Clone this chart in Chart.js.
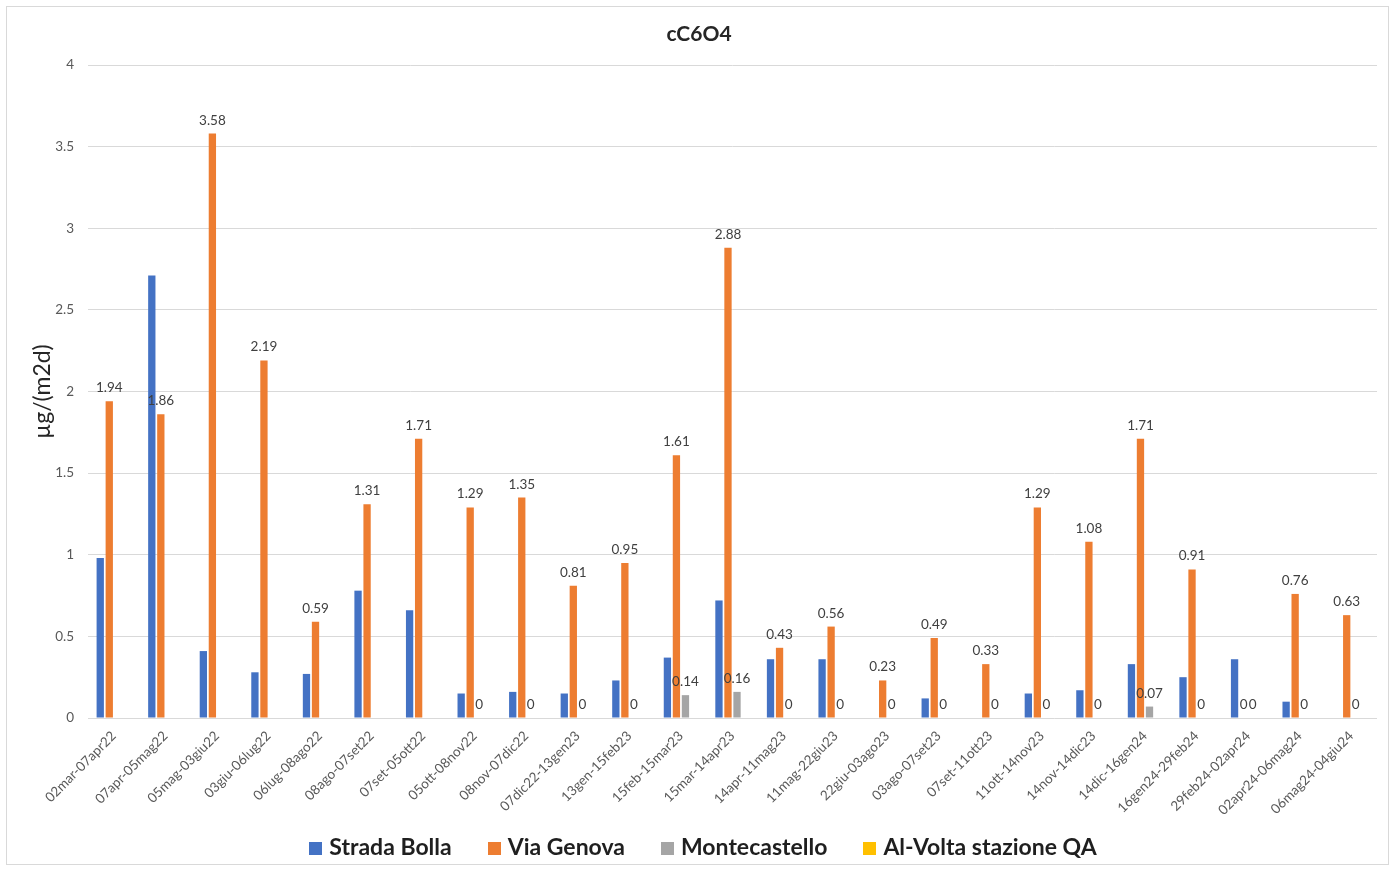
<!DOCTYPE html>
<html>
<head>
<meta charset="utf-8">
<title>cC6O4</title>
<script src="https://cdn.jsdelivr.net/npm/chart.js@4.4.1/dist/chart.umd.min.js"></script>
<style>
  html, body { margin: 0; padding: 0; background: #ffffff; }
  #c { display: block; }
</style>
</head>
<body>
<canvas id="c" width="1396" height="871"></canvas>
<script>
// Sampling periods (x categories)
const periods = [
  '02mar-07apr22', '07apr-05mag22', '05mag-03giu22', '03giu-06lug22', '06lug-08ago22',
  '08ago-07set22', '07set-05ott22', '05ott-08nov22', '08nov-07dic22', '07dic22-13gen23',
  '13gen-15feb23', '15feb-15mar23', '15mar-14apr23', '14apr-11mag23', '11mag-22giu23',
  '22giu-03ago23', '03ago-07set23', '07set-11ott23', '11ott-14nov23', '14nov-14dic23',
  '14dic-16gen24', '16gen24-29feb24', '29feb24-02apr24', '02apr24-06mag24', '06mag24-04giu24'
];

// Deposition values, µg/(m2d); null = no sample
const stradaBolla = [
  0.98, 2.71, 0.41, 0.28, 0.27, 0.78, 0.66, 0.15, 0.16, 0.15,
  0.23, 0.37, 0.72, 0.36, 0.36, null, 0.12, null, 0.15, 0.17,
  0.33, 0.25, 0.36, 0.10, null
];
const viaGenova = [
  1.94, 1.86, 3.58, 2.19, 0.59, 1.31, 1.71, 1.29, 1.35, 0.81,
  0.95, 1.61, 2.88, 0.43, 0.56, 0.23, 0.49, 0.33, 1.29, 1.08,
  1.71, 0.91, 0, 0.76, 0.63
];
const montecastello = [
  null, null, null, null, null, null, null, 0, 0, 0,
  0, 0.14, 0.16, 0, 0, 0, 0, 0, 0, 0,
  0.07, 0, 0, 0, 0
];
const alVolta = [
  null, null, null, null, null, null, null, null, null, null,
  null, null, null, null, null, null, null, null, null, null,
  null, null, null, null, null
];

const seriesNames = ['Strada Bolla', 'Via Genova', 'Montecastello', 'Al-Volta stazione QA'];
const seriesColors = ['#4472C4', '#ED7D31', '#A5A5A5', '#FFC000'];
const yTickLabels = ['0', '0.5', '1', '1.5', '2', '2.5', '3', '3.5', '4'];
const chartTitle = 'cC6O4';
const yAxisTitle = 'µg/(m2d)';

// Series whose values are printed above the bars
const labelledSeries = [1, 2];

const FONT = 'Lato, "Open Sans", "DejaVu Sans", sans-serif';

// White page, thin frame and the centred title
const framePlugin = {
  id: 'frame',
  beforeDraw(chart) {
    const ctx = chart.ctx;
    ctx.save();
    ctx.fillStyle = '#ffffff';
    ctx.fillRect(0, 0, chart.width, chart.height);
    ctx.strokeStyle = '#d9d9d9';
    ctx.lineWidth = 1;
    ctx.strokeRect(6.5, 6.5, chart.width - 14, chart.height - 13);
    ctx.font = 'bold 21px ' + FONT;
    ctx.fillStyle = '#262626';
    ctx.textAlign = 'center';
    ctx.textBaseline = 'middle';
    ctx.fillText(chartTitle, chart.width / 2 + 1, 34);
    ctx.restore();
  }
};

// Legend row under the axis: square swatch, short gap, series name
const legendPlugin = {
  id: 'legendRow',
  afterDraw(chart) {
    const ctx = chart.ctx;
    const box = 13, boxGap = 7, itemGap = 36, cy = 848;
    ctx.save();
    ctx.font = 'bold 23px ' + FONT;
    const items = chart.data.datasets.map(ds => ({
      text: ds.label,
      color: ds.backgroundColor,
      w: ctx.measureText(ds.label).width
    }));
    const total = items.reduce((s, it) => s + box + boxGap + it.w, 0) + itemGap * (items.length - 1);
    let x = (chart.width - total) / 2 + 5;
    ctx.textBaseline = 'middle';
    ctx.textAlign = 'left';
    items.forEach(it => {
      ctx.fillStyle = it.color;
      ctx.fillRect(Math.round(x), cy - 6, box, box);
      ctx.fillStyle = '#1f1f1f';
      ctx.fillText(it.text, x + box + boxGap, cy);
      x += box + boxGap + it.w + itemGap;
    });
    ctx.restore();
  }
};

// Value labels above the bars of selected series
const valueLabelPlugin = {
  id: 'valueLabels',
  afterDatasetsDraw(chart) {
    const ctx = chart.ctx;
    ctx.save();
    ctx.font = '13.5px ' + FONT;
    ctx.fillStyle = '#404040';
    ctx.textAlign = 'center';
    ctx.textBaseline = 'alphabetic';
    labelledSeries.forEach(di => {
      const meta = chart.getDatasetMeta(di);
      const data = chart.data.datasets[di].data;
      meta.data.forEach((bar, i) => {
        const v = data[i];
        if (v === null || v === undefined) return;
        ctx.fillText(String(v), bar.x, bar.y - 9);
      });
    });
    ctx.restore();
  }
};

const datasets = [stradaBolla, viaGenova, montecastello, alVolta].map((values, k) => ({
  label: seriesNames[k],
  data: values,
  backgroundColor: seriesColors[k],
  borderWidth: 0,
  categoryPercentage: 0.70,
  barPercentage: 0.81
}));

new Chart(document.getElementById('c'), {
  type: 'bar',
  data: { labels: periods, datasets },
  options: {
    responsive: false,
    animation: false,
    devicePixelRatio: 1,
    layout: { padding: { top: 65, left: 8, right: 19, bottom: 46 } },
    plugins: {
      title: { display: false },
      legend: { display: false },
      tooltip: { enabled: false }
    },
    scales: {
      x: {
        grid: { display: false, drawTicks: false },
        border: { display: false },
        ticks: {
          autoSkip: false,
          maxRotation: 45,
          minRotation: 45,
          padding: 10,
          color: '#595959',
          font: { family: FONT, size: 13.5 }
        },
        afterFit(scale) { scale.height = 107; }
      },
      y: {
        min: 0,
        max: 4,
        ticks: {
          stepSize: 0.5,
          padding: 14,
          color: '#595959',
          font: { family: FONT, size: 13.5 },
          callback: (value, index) => yTickLabels[index]
        },
        grid: { color: '#d9d9d9', lineWidth: 1, drawTicks: false },
        border: { display: false },
        title: {
          display: true,
          text: yAxisTitle,
          color: '#262626',
          font: { family: FONT, size: 23 },
          padding: { top: 20.5, bottom: 0 }
        },
        afterFit(scale) { scale.width = 80; }
      }
    }
  },
  plugins: [framePlugin, legendPlugin, valueLabelPlugin]
});
</script>
</body>
</html>
